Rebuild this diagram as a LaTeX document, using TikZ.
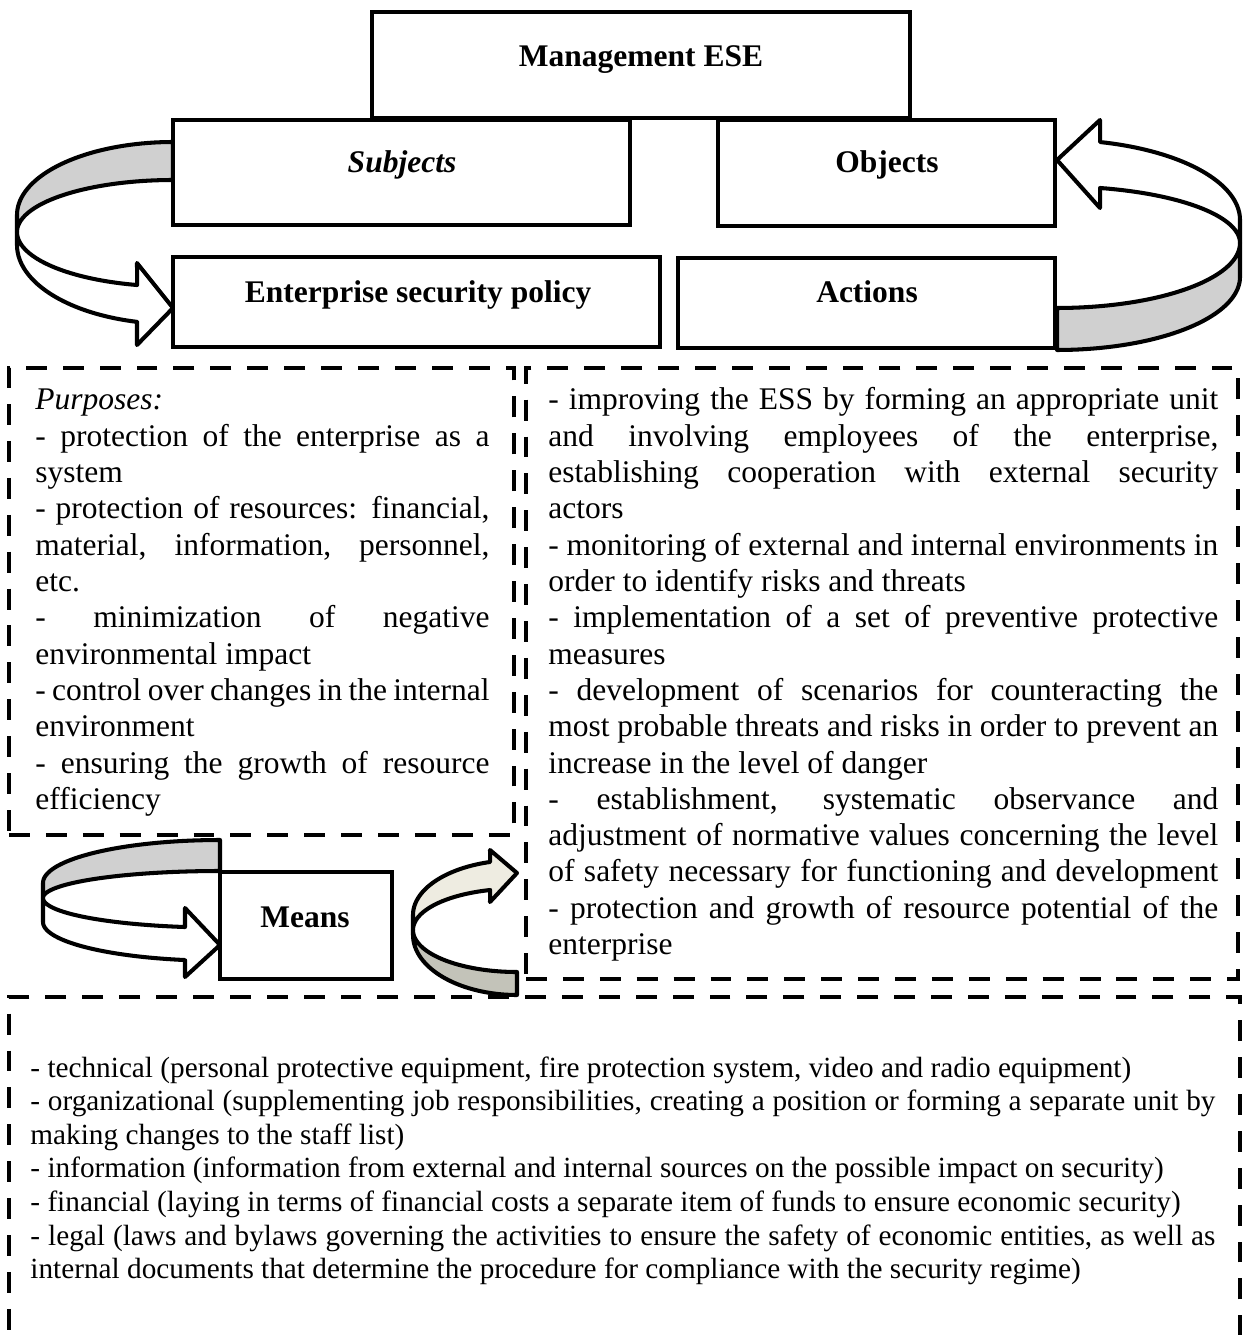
\documentclass[tikz,border=0pt]{standalone}
\usepackage{fontspec}
\setmainfont{Liberation Serif}
\newcommand\pxu{0.4444pt}
% justified line widths
\newcommand\jl[1]{\makebox[201.8pt][s]{#1}}
\newcommand\jr[1]{\makebox[297.7pt][s]{#1}}
\newcommand\jb[1]{\makebox[526.6pt][s]{#1}}
\definecolor{bandgray}{HTML}{D0D0D0}
\definecolor{bandbeige}{HTML}{EEECE1}
\definecolor{bandolive}{HTML}{C3C3B9}
\begin{document}
\begin{tikzpicture}[x=0.4444pt,y=-0.4444pt,
  box/.style={draw, line width=1.8pt, fill=white, inner sep=0pt, outer sep=0pt},
  dbox/.style={draw, line width=2.2pt, dash pattern=on 9.3pt off 7.1pt, inner sep=0pt, outer sep=0pt},
  ttl/.style={anchor=base, inner sep=0pt, font=\fontsize{14}{16}\selectfont\bfseries},
  txt/.style={anchor=base west, inner sep=0pt, font=\fontsize{14}{16}\selectfont},
  stxt/.style={anchor=base west, inner sep=0pt, font=\fontsize{13}{15}\selectfont},
  band/.style={draw, line width=1.8pt, line join=round},
  smp/.style={samples=40}]
\useasboundingbox (0,0) rectangle (1245,1335);
\clip (0,0) rectangle (1245,1335);

% dashed frames
\node[dbox, minimum width=505*\pxu, minimum height=467*\pxu] (purp) at (261.5,601.5) {};
\node[dbox, minimum width=712*\pxu, minimum height=611*\pxu] (acts) at (882,673.5) {};
\node[dbox, minimum width=1231*\pxu, minimum height=363*\pxu] (tools) at (624.5,1178.5) {};

% curved arrow: Subjects -> Enterprise security policy
\filldraw[band, fill=bandgray]
  plot[smp, domain=270:180] ({173+156*cos(\x)},{215+73*sin(\x)})
  -- plot[smp, domain=180:270] ({173+156*cos(\x)},{232+52*sin(\x)}) -- cycle;
\filldraw[band, fill=white]
  plot[smp, domain=180:103.3] ({173+156*cos(\x)},{232+54.5*sin(\x)})
  -- (137,263) -- (173,308) -- (137,345) -- (137,322)
  -- plot[smp, domain=103.3:180] ({173+156*cos(\x)},{245+79*sin(\x)}) -- cycle;

% curved arrow: Actions -> Objects
\filldraw[band, fill=bandgray]
  plot[smp, domain=0:90] ({1057+183*cos(\x)},{243+65*sin(\x)})
  -- plot[smp, domain=90:0] ({1057+183*cos(\x)},{277+73*sin(\x)}) -- cycle;
\filldraw[band, fill=white]
  plot[smp, domain=283.6:360] ({1057+183*cos(\x)},{220+80.2*sin(\x)})
  -- plot[smp, domain=360:283.6] ({1057+183*cos(\x)},{243+56.6*sin(\x)})
  -- (1100,208) -- (1057,160) -- (1100,120) -- cycle;

% curved arrow into Means
\filldraw[band, fill=bandgray]
  plot[smp, domain=270:180] ({220+177*cos(\x)},{883+43*sin(\x)})
  -- plot[smp, domain=180:270] ({220+177*cos(\x)},{898+27*sin(\x)}) -- cycle;
\filldraw[band, fill=white]
  plot[smp, domain=180:101.4] ({220+177*cos(\x)},{898+29.6*sin(\x)})
  -- (185,908) -- (220,945) -- (185,977) -- (185,960)
  -- plot[smp, domain=101.4:180] ({220+177*cos(\x)},{922+38.8*sin(\x)}) -- cycle;

% curved arrow out of Means
\filldraw[band, fill=bandolive]
  plot[smp, domain=180:90] ({517+104*cos(\x)},{930+42*sin(\x)})
  -- plot[smp, domain=90:180] ({517+104*cos(\x)},{935+60*sin(\x)}) -- cycle;
\filldraw[band, fill=bandbeige]
  plot[smp, domain=255.05:180] ({517+104*cos(\x)},{915+54.9*sin(\x)})
  -- plot[smp, domain=180:255.05] ({517+104*cos(\x)},{930+41.4*sin(\x)})
  -- (490,902) -- (517,873) -- (490,850) -- cycle;

% solid boxes
\node[box, minimum width=538*\pxu, minimum height=106*\pxu] (mgmt) at (641,65) {};
\node[box, minimum width=457*\pxu, minimum height=105*\pxu] (subj) at (401.5,172.5) {};
\node[box, minimum width=337*\pxu, minimum height=106*\pxu] (obj) at (886.5,173) {};
\node[box, minimum width=487*\pxu, minimum height=90*\pxu] (esp) at (416.5,302) {};
\node[box, minimum width=377*\pxu, minimum height=90*\pxu] (act) at (866.5,303) {};
\node[box, minimum width=172*\pxu, minimum height=107*\pxu] (means) at (306,925.5) {};

% box titles
\node[ttl] (tmgmt) at (641,67) {Management ESE};
\node[ttl] (tsubj) at (402,173) {\itshape Subjects};
\node[ttl] (tobj) at (887,173) {Objects};
\node[ttl] (tesp) at (418,303) {Enterprise security policy};
\node[ttl] (tact) at (867,303) {Actions};
\node[ttl] (tmeans) at (305,927) {Means};

% purposes
\node[txt] (p0) at (35,410) {\itshape Purposes:};
\node[txt] (p1) at (35,446.3) {\jl{- protection of the enterprise as a}};
\node[txt] (p2) at (35,482.6) {system};
\node[txt] (p3) at (35,518.9) {\jl{- protection of resources: financial,}};
\node[txt] (p4) at (35,555.2) {\jl{material, information, personnel,}};
\node[txt] (p5) at (35,591.5) {etc.};
\node[txt] (p6) at (35,627.8) {\jl{- minimization of negative}};
\node[txt] (p7) at (35,664.1) {environmental impact};
\node[txt] (p8) at (35,700.4) {\jl{- control over changes in the internal}};
\node[txt] (p9) at (35,736.7) {environment};
\node[txt] (p10) at (35,773) {\jl{- ensuring the growth of resource}};
\node[txt] (p11) at (35,809.3) {efficiency};

% actions
\node[txt] (r0) at (548,410) {\jr{- improving the ESS by forming an appropriate unit}};
\node[txt] (r1) at (548,446.3) {\jr{and involving employees of the enterprise,}};
\node[txt] (r2) at (548,482.6) {\jr{establishing cooperation with external security}};
\node[txt] (r3) at (548,518.9) {actors};
\node[txt] (r4) at (548,555.2) {\jr{- monitoring of external and internal environments in}};
\node[txt] (r5) at (548,591.5) {order to identify risks and threats};
\node[txt] (r6) at (548,627.8) {\jr{- implementation of a set of preventive protective}};
\node[txt] (r7) at (548,664.1) {measures};
\node[txt] (r8) at (548,700.4) {\jr{- development of scenarios for counteracting the}};
\node[txt] (r9) at (548,736.7) {\jr{most probable threats and risks in order to prevent an}};
\node[txt] (r10) at (548,773) {increase in the level of danger};
\node[txt] (r11) at (548,809.3) {\jr{- establishment, systematic observance and}};
\node[txt] (r12) at (548,845.6) {\jr{adjustment of normative values concerning the level}};
\node[txt] (r13) at (548,881.9) {\jr{of safety necessary for functioning and development}};
\node[txt] (r14) at (548,918.2) {\jr{- protection and growth of resource potential of the}};
\node[txt] (r15) at (548,954.5) {enterprise};

% means list
\node[stxt] (b0) at (30,1077) {- technical (personal protective equipment, fire protection system, video and radio equipment)};
\node[stxt] (b1) at (30,1110.6) {\jb{- organizational (supplementing job responsibilities, creating a position or forming a separate unit by}};
\node[stxt] (b2) at (30,1144.2) {making changes to the staff list)};
\node[stxt] (b3) at (30,1177.8) {- information (information from external and internal sources on the possible impact on security)};
\node[stxt] (b4) at (30,1211.4) {- financial (laying in terms of financial costs a separate item of funds to ensure economic security)};
\node[stxt] (b5) at (30,1245) {\jb{- legal (laws and bylaws governing the activities to ensure the safety of economic entities, as well as}};
\node[stxt] (b6) at (30,1278.6) {internal documents that determine the procedure for compliance with the security regime)};
\end{tikzpicture}
\end{document}
